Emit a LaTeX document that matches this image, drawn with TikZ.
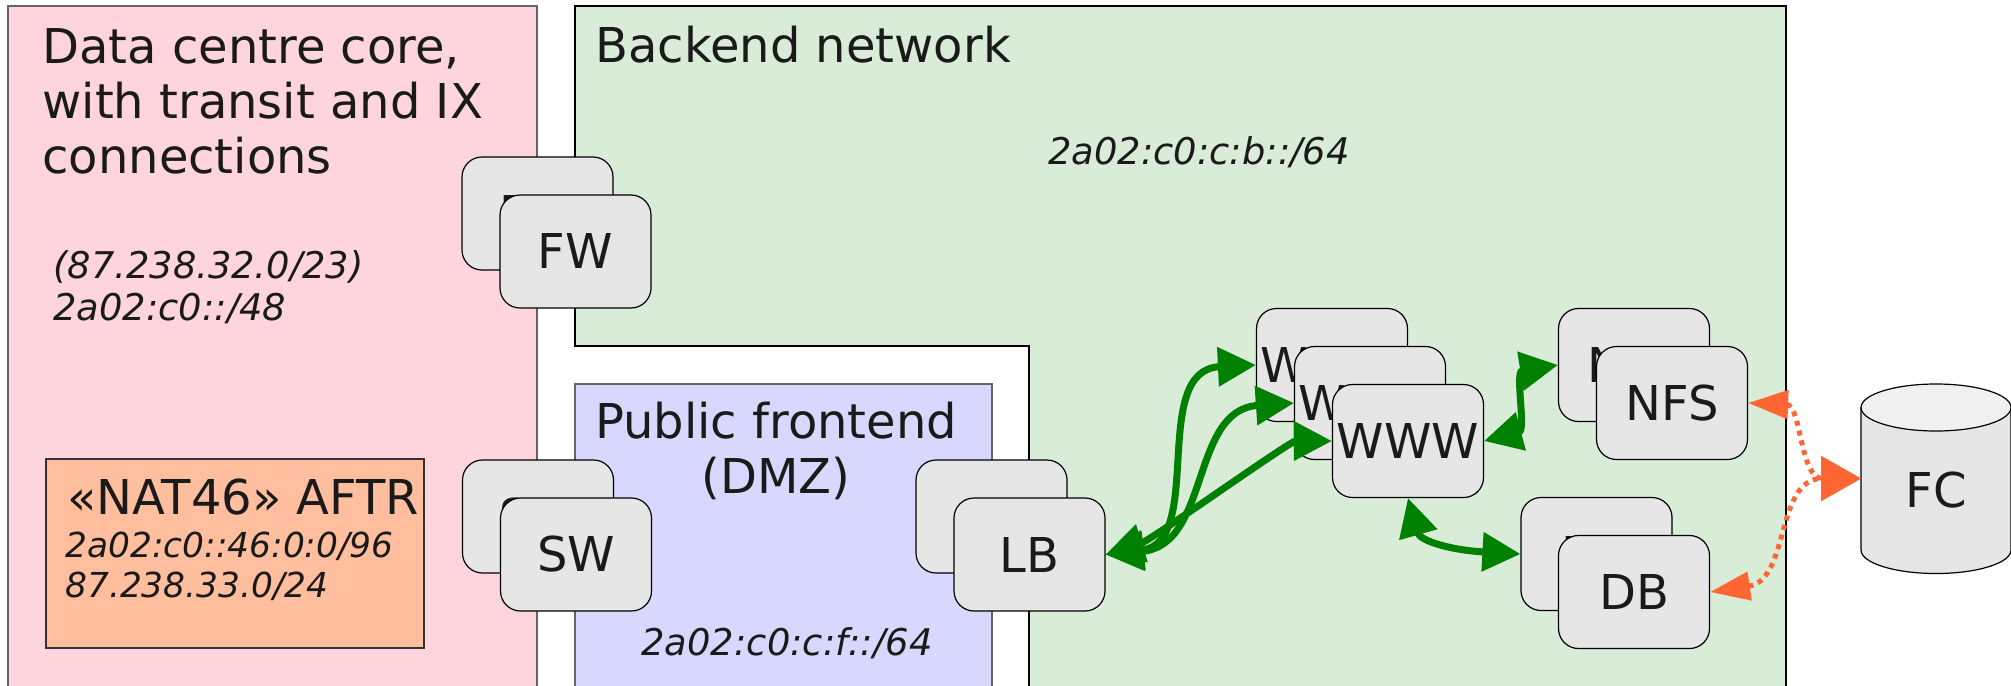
\documentclass[tikz,border=0pt]{standalone}
\usepackage{fontspec}
\setmainfont{DejaVu Sans}
\usetikzlibrary{arrows.meta}
\definecolor{pinkbg}{RGB}{255,213,221}
\definecolor{greenbg}{RGB}{216,236,216}
\definecolor{bluebg}{RGB}{216,216,255}
\definecolor{natbg}{RGB}{255,191,159}
\definecolor{devgray}{RGB}{230,230,230}
\definecolor{fctop}{RGB}{240,240,240}
\definecolor{arrgreen}{RGB}{0,128,0}
\definecolor{arrorange}{RGB}{255,102,51}
\definecolor{txt}{RGB}{26,26,26}
\definecolor{edgegray}{RGB}{100,100,100}
\begin{document}
\begin{tikzpicture}[x=0.5pt,y=-0.5pt,
  dev/.style={draw=black, line width=0.6pt, fill=devgray, rounded corners=10pt,
    minimum width=75.5pt, minimum height=56.5pt, inner sep=0pt, text=txt,
    font=\fontsize{24pt}{27.5pt}\selectfont},
  lbl/.style={text=txt, inner sep=0pt, font=\fontsize{24pt}{27.5pt}\selectfont},
  addr/.style={text=txt, inner sep=0pt, font=\fontsize{18.4pt}{21pt}\selectfont\itshape},
  garrow/.style={draw=arrgreen, line width=3.5pt,
    {Triangle[length=19pt,width=19pt]}-{Triangle[length=19pt,width=19pt]}},
  oarrow/.style={draw=arrorange, line width=2.5pt, dash pattern=on 2.5pt off 2.5pt,
    {Triangle[length=20pt,width=14pt]}-{Triangle[length=20pt,width=22pt]}}
]
\useasboundingbox (0,0) rectangle (2011,685);
\clip (0,0) rectangle (2011,685);
% zones
\draw[draw=edgegray, line width=0.6pt, fill=pinkbg] (8,6) rectangle (537,700);
\draw[draw=black, line width=0.6pt, fill=greenbg] (575,6) -- (1786,6) -- (1786,700) -- (1029,700) -- (1029,346) -- (575,346) -- cycle;
\draw[draw=edgegray, line width=0.6pt, fill=bluebg] (575,384) rectangle (992,700);
\draw[draw=black!80, line width=0.6pt, fill=natbg] (46,459) rectangle (424,648);
% zone texts (base anchor = baseline of last line)
\node[lbl, anchor=base west, align=left] (dctitle) at (42,173) {Data centre core,\\with transit and IX\\connections};
\node[addr, anchor=base west, align=left] (dcaddr) at (53,320) {(87.238.32.0/23)\\2a02:c0::/48};
\node[lbl, anchor=base west] (bntitle) at (595,62) {Backend network};
\node[addr, anchor=base west] (bnaddr) at (1048,164) {2a02:c0:c:b::/64};
\node[lbl, anchor=base, align=center] (pftitle) at (776,493) {Public frontend\\(DMZ)};
\node[addr, anchor=base] (pfaddr) at (787,655) {2a02:c0:c:f::/64};
\node[lbl, anchor=base west] (nattitle) at (67,514) {«NAT46» AFTR};
\node[addr, anchor=base west, align=left, font=\fontsize{17.2pt}{20pt}\selectfont\itshape] (nataddr) at (65,597) {2a02:c0::46:0:0/96\\87.238.33.0/24};
% devices
\node[dev] (fwb) at (537.5,213.5) {FW};
\node[dev] (fwf) at (575.5,251.5) {FW};
\node[dev] (swb) at (538,516.5) {SW};
\node[dev] (swf) at (576,554.5) {SW};
\node[dev] (lbb) at (991.5,516.5) {LB};
\node[dev] (lbf) at (1029.5,554.5) {LB};
\node[dev] (www1) at (1332,365) {WWW};
\node[dev] (www2) at (1370,403) {WWW};
\node[dev] (www3) at (1408,441) {WWW};
\node[dev] (nfsb) at (1634,365) {NFS};
\node[dev] (nfsf) at (1672,403) {NFS};
\node[dev] (dbb) at (1596.5,554) {DB};
\node[dev] (dbf) at (1634,592) {DB};
% FC cylinder
\draw[draw=black, line width=0.6pt, fill=devgray] (1861,407.5) -- (1861,550)
  arc[start angle=180, end angle=360, x radius=37.5pt, y radius=11.75pt] -- (2011,407.5) -- cycle;
\draw[draw=black, line width=0.6pt, fill=fctop] (1936,407.5) ellipse [x radius=37.5pt, y radius=11.75pt];
\node[lbl] (fc) at (1936,490) {FC};
\coordinate (fcw) at (1861,478.5);
% connectors
\draw[garrow] (lbf.east) .. controls +(100,-12) and +(-107,5) .. (www1.west);
\draw[garrow] (lbf.east) .. controls +(105,-9) and +(-104,7) .. (www2.west);
\draw[garrow] (lbf.east) .. controls +(45,-14) and +(-42,0) .. (www3.west);
\draw[garrow] (www3.east) .. controls +(42,-11) and +(-43,7) .. (nfsb.west);
\draw[garrow] (www3.south) .. controls +(12,42.5) and +(-71,-4) .. (dbb.west);
\draw[oarrow] (nfsf.east) .. controls +(53,2) and +(-61,0) .. (fcw);
\draw[oarrow] (dbf.east) .. controls +(80,-12) and +(-86,0) .. (fcw);
\end{tikzpicture}
\end{document}
